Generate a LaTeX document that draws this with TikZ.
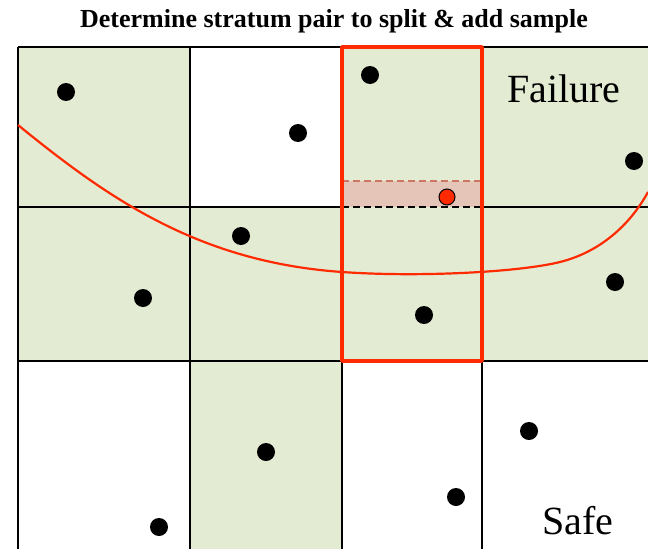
\documentclass[tikz,border=0pt]{standalone}
\usepackage{fontspec}
\setmainfont{Liberation Serif}
\usepackage{tikz}
\definecolor{cellgreen}{HTML}{E3EBD3}
\definecolor{limitred}{HTML}{FF2A00}
\definecolor{bandpink}{HTML}{E5C5B8}
\definecolor{banddash}{HTML}{CC7766}
\tikzstyle{cell} = [fill=cellgreen, draw=none]
\tikzstyle{gridline} = [line width=2pt, black]
\tikzstyle{limit} = [line width=2.2pt, limitred]
\tikzstyle{pair} = [line width=3.5pt, limitred, line join=round]
\tikzstyle{banded} = [line width=1.5pt, dash pattern=on 7pt off 4pt]
\tikzstyle{sample} = [circle, fill=black, inner sep=0pt, minimum size=18pt]
\tikzstyle{newsample} = [circle, fill=limitred, draw=black, line width=1pt, inner sep=0pt, minimum size=16pt]
\tikzstyle{region} = [anchor=base, font=\fontsize{40}{48}\selectfont]
\begin{document}
\begin{tikzpicture}[x=1pt, y=-1pt]
      \useasboundingbox (0,0) rectangle (648,549);
      % shaded strata
      \fill [cell] (18,47) rectangle (190,207);
      \fill [cell] (342,47) rectangle (648,207);
      \fill [cell] (18,207) rectangle (648,361);
      \fill [cell] (190,361) rectangle (342,549);
      \fill [bandpink] (342,181) rectangle (482,207);
      % grid
      \draw [gridline] (18,47) -- (648,47);
      \draw [gridline] (18,207) -- (342,207);
      \draw [gridline] (482,207) -- (648,207);
      \draw [gridline] (18,361) -- (648,361);
      \foreach \x in {18,190,342,482}
        \draw [gridline] (\x,47) -- (\x,549);
      \draw [banded] (342,207) -- (482,207);
      \draw [banded, banddash] (342,181) -- (482,181);
      % limit state
      \draw [limit] (18,125) .. controls (110,200) and (200,262) .. (342,272)
        .. controls (420,277.5) and (520,272) .. (560,262)
        .. controls (600,252) and (630,225) .. (648,192);
      % selected pair
      \draw [pair] (342,47) rectangle (482,361);
      % samples
      \node (s1)[sample] at (66,92) {};
      \node (s2)[sample] at (370,75) {};
      \node (s3)[sample] at (298,133) {};
      \node (s4)[sample] at (634,161) {};
      \node (s5)[sample] at (241,236) {};
      \node (s6)[sample] at (143,298) {};
      \node (s7)[sample] at (424,315) {};
      \node (s8)[sample] at (615,282) {};
      \node (s9)[sample] at (266,452) {};
      \node (s10)[sample] at (529,431) {};
      \node (s11)[sample] at (456,497) {};
      \node (s12)[sample] at (159,527) {};
      \node (add)[newsample] at (447,197) {};
      % labels
      \node (title)[anchor=base, font=\bfseries\fontsize{26}{31}\selectfont] at (334,27) {Determine stratum pair to split \& add sample};
      \node (fail)[region] at (564,102) {Failure};
      \node (safe)[region] at (578,534) {Safe};
\end{tikzpicture}
\end{document}
